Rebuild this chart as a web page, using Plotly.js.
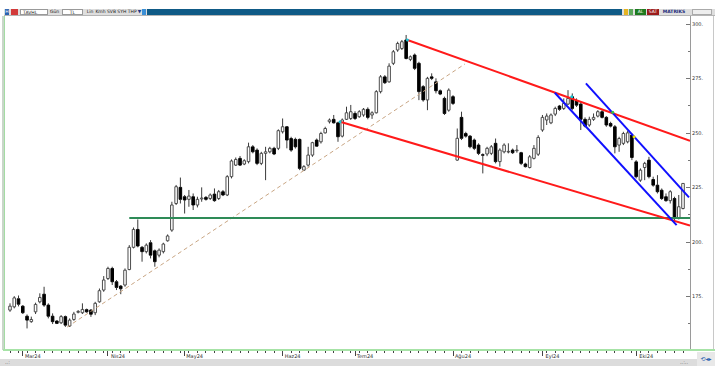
<!DOCTYPE html>
<html>
<head>
<meta charset="utf-8">
<script src="https://cdn.plot.ly/plotly-3.0.1.min.js"></script>
<style>
html,body{margin:0;padding:0;background:#fff;width:715px;height:366px;overflow:hidden;font-family:"DejaVu Sans","Liberation Sans",sans-serif;}
#chart{position:absolute;left:0;top:0;width:715px;height:366px;}
.ov{position:absolute;z-index:5;box-sizing:border-box;}
.tbt{position:absolute;top:9px;height:6px;font-size:4.5px;line-height:6px;color:#222;white-space:nowrap;z-index:6;text-align:center;box-sizing:border-box;overflow:hidden;}
</style>
</head>
<body>
<div id="chart"></div>
<!-- window chrome -->
<div class="ov" style="left:4px;top:9px;width:711px;height:7px;background:#dedede;border-bottom:1px solid #b5b5b5;"></div>
<div class="ov" style="left:147px;top:9px;width:475px;height:6px;background:#0f5a86;"></div>
<div class="tbt" style="left:5px;width:4px;background:#2a62b0;color:#fff;">H</div>
<div class="tbt" style="left:11px;width:7px;background:#d23a3a;"></div>
<div class="tbt" style="left:20px;width:28px;background:#fff;border:1px solid #999;text-align:left;padding-left:2px;">TAVHL</div>
<div class="tbt" style="left:49px;width:11px;">Gün</div>
<div class="tbt" style="left:62px;width:21px;background:#fff;border:1px solid #999;">TL</div>
<div class="tbt" style="left:85px;width:10px;">Lin</div>
<div class="tbt" style="left:95px;width:11px;">Kmh</div>
<div class="tbt" style="left:106px;width:11px;">SVB</div>
<div class="tbt" style="left:117px;width:20px;">SYH THP</div>
<div class="tbt" style="left:137px;width:5px;color:#1a3a8a;">▼</div>
<div class="tbt" style="left:142px;width:4px;background:#3b8fd6;"></div>
<div class="tbt" style="left:624px;width:4px;background:#e6b422;"></div>
<div class="tbt" style="left:629px;width:4px;background:#5aa85a;"></div>
<div class="tbt" style="left:635px;width:11px;background:#1f7a1f;color:#fff;">AL</div>
<div class="tbt" style="left:647px;width:12px;background:#9b1b1b;color:#fff;">SAT</div>
<div class="tbt" style="left:661px;width:26px;color:#1a2a7a;font-weight:bold;">MATRIKS</div>
<div class="tbt" style="left:692px;width:20px;background:#eeeeee;border:1px solid #aaa;"></div>
<div class="ov" style="left:2px;top:16px;width:3px;height:334px;background:#c9d6c9;border-right:1px solid #a4dca4;"></div>
<div class="ov" style="left:713px;top:16px;width:1px;height:334px;background:#c8c8c8;"></div>
<div class="ov" style="left:3px;top:349px;width:712px;height:2px;background:#a6e3a6;"></div>
<div class="ov" style="left:0px;top:359px;width:715px;height:7px;background:#dcdcdc;"></div>
<div class="ov" style="left:5px;top:359px;width:10px;height:6px;font-size:5px;line-height:6px;color:#555;">..:</div>
<div class="ov" style="left:680px;top:359px;width:12px;height:6px;font-size:5px;line-height:6px;color:#555;">..:..</div>
<div class="ov" style="left:697px;top:352px;width:18px;height:14px;background:#e8e8e8;font-size:6px;line-height:14px;color:#2a5db0;text-align:center;">⟲◂▸</div>
<script>
// ---- data ----
var open = [168.8,170.3,174.0,170.6,166.0,163.5,168.0,172.6,176.1,171.1,
166.0,163.8,163.0,165.8,161.5,164.5,167.8,167.6,169.0,168.8,
167.6,172.6,178.0,183.3,187.9,181.8,179.8,180.3,187.4,197.6,
205.8,197.6,195.6,199.7,196.0,194.0,195.6,200.6,205.5,217.7,
225.1,220.8,219.6,220.8,217.0,219.8,220.5,220.0,222.0,220.0,
223.1,221.6,230.0,235.3,238.4,235.8,236.9,243.7,242.2,236.1,
240.7,241.4,243.0,243.0,250.6,252.9,247.5,247.1,247.1,233.0,
235.3,239.9,246.8,246.0,250.1,255.2,256.3,254.7,248.6,256.3,
256.7,259.0,257.5,258.3,260.9,258.3,259.3,269.0,275.8,273.5,
282.0,288.1,288.8,292.7,283.8,285.8,282.0,271.3,265.2,275.8,
273.5,269.4,265.9,260.5,266.7,237.6,257.2,249.8,248.6,246.8,
244.5,240.1,240.4,240.7,245.3,236.9,241.4,241.3,242.2,241.9,
241.0,235.8,234.2,238.4,240.3,251.4,256.0,254.7,258.7,262.4,
261.3,263.3,266.7,264.8,263.3,256.3,253.7,256.3,257.8,259.8,
257.2,254.4,252.9,244.5,245.3,246.0,249.1,236.8,228.4,234.2,
237.6,228.7,226.1,223.8,220.8,219.0,220.0,210.8,215.4];
var high = [171.9,175.2,175.5,171.1,166.8,165.8,172.2,176.5,179.5,171.9,
167.3,164.2,166.5,166.3,165.0,168.0,168.8,171.9,169.5,169.3,
172.6,178.7,184.4,188.7,188.7,182.6,180.3,187.9,198.6,206.7,
210.4,198.2,199.4,200.9,196.6,197.1,199.7,203.5,218.5,226.2,
229.6,221.6,223.9,222.3,220.8,225.1,221.1,222.3,224.6,223.9,
223.9,230.7,237.9,238.8,239.5,238.0,245.6,244.5,243.0,241.4,
243.7,243.7,243.7,251.7,256.7,253.2,248.3,247.9,247.5,235.3,
243.7,246.0,247.5,250.6,252.9,256.7,258.3,255.2,256.7,262.1,
262.9,260.0,260.5,261.5,261.8,260.0,269.7,276.6,276.6,282.0,
288.1,291.9,292.7,295.0,285.6,286.5,282.7,272.0,275.8,277.4,
275.1,270.0,266.7,270.5,267.4,252.1,259.8,250.6,249.1,247.5,
245.3,240.7,243.7,244.5,247.5,243.0,245.3,245.3,242.9,244.5,
241.4,236.4,239.9,244.5,249.0,258.3,259.0,259.0,262.1,262.9,
265.9,269.7,268.2,265.9,264.4,257.2,257.5,259.0,260.5,260.9,
257.8,255.2,253.7,248.3,250.6,251.1,249.8,237.6,233.8,236.8,
239.1,230.0,230.7,224.6,222.3,223.8,220.8,221.6,227.0];
var low = [168.0,169.6,170.5,167.0,160.4,163.0,167.0,171.9,170.3,165.0,
162.4,162.4,162.4,161.1,161.1,163.9,167.3,167.0,167.6,165.7,
166.5,172.2,177.2,182.6,180.3,178.0,176.1,179.5,187.1,197.1,
197.6,191.0,194.8,192.5,188.7,193.0,194.8,200.2,204.7,217.0,
217.7,213.1,216.2,214.7,215.9,218.5,219.0,219.3,218.5,219.3,
221.1,221.1,229.2,234.9,234.9,235.3,236.1,240.7,235.3,235.3,
228.4,240.7,239.9,242.2,249.8,243.0,241.4,242.9,233.0,232.6,
234.6,239.1,243.7,245.2,249.8,254.4,254.4,246.0,248.0,256.0,
256.0,256.0,257.0,257.5,256.3,256.5,259.0,268.2,272.5,273.1,
281.2,287.3,288.1,283.8,283.0,278.9,265.1,264.4,260.5,274.3,
268.2,267.4,258.3,259.8,262.9,237.3,246.8,247.9,243.0,242.2,
239.9,231.5,239.4,239.9,236.1,234.6,240.7,240.7,240.4,241.0,
235.3,234.2,233.8,237.9,239.5,250.6,253.7,254.1,257.8,260.2,
260.6,262.9,260.5,262.0,251.4,252.6,252.9,255.6,257.2,256.7,
252.9,252.6,240.7,241.4,244.5,245.3,237.6,229.2,227.6,228.4,
229.2,225.4,222.3,219.3,218.5,217.7,209.3,210.4,215.0];
var close = [170.6,174.4,171.5,167.6,164.2,164.5,171.4,174.6,171.1,166.0,
163.5,162.7,165.8,161.9,164.2,167.0,168.2,169.1,168.0,166.9,
171.9,177.7,182.6,187.9,181.8,179.2,178.6,187.1,197.6,205.8,
198.2,195.6,198.6,194.0,191.0,196.3,199.1,202.8,217.0,225.4,
219.6,219.3,221.1,217.0,219.6,220.2,219.6,221.6,219.0,223.1,
221.6,230.0,237.2,237.9,235.3,237.3,243.7,241.4,236.1,240.7,
241.4,243.0,240.4,251.1,252.9,246.8,242.2,243.7,233.8,234.6,
239.9,245.6,244.0,249.8,252.1,256.0,254.7,248.3,256.0,259.3,
259.8,256.7,259.8,260.9,257.2,259.3,269.0,275.8,273.1,280.7,
287.3,291.1,291.9,284.2,285.0,279.7,269.0,265.2,275.1,275.1,
269.4,267.9,259.0,269.7,263.6,247.6,247.6,248.6,243.7,243.0,
240.7,239.8,243.0,243.7,236.9,242.2,244.5,241.6,241.0,242.1,
236.1,234.6,239.1,243.0,248.0,257.2,257.8,258.3,261.3,260.9,
263.6,265.9,261.3,262.8,256.3,253.2,256.3,257.2,259.8,257.2,
253.7,253.2,243.7,247.5,249.8,250.1,238.8,230.0,233.0,236.1,
230.0,226.1,223.1,220.0,219.0,223.1,210.8,216.2,226.9];

var monthTickIdx = [3, 23, 41, 64, 81, 104, 125, 147];
var monthLabels  = ['Mar24','Nis24','May24','Haz24','Tem24','Ağu24','Eyl24','Eki24'];
var priceTicks  = [175, 200, 225, 250, 275, 300];
var priceLabels = ['175.', '200.', '225.', '250.', '275.', '300.'];
var priceMinorTicks = [162.5, 187.5, 212.5, 237.5, 262.5, 287.5];

// drawn trend lines (candle index, price)
var supportX  = [28, 159.64];           var supportY  = [211, 211];
var redTopX   = [93.3, 159.64];         var redTopY   = [292.7, 246.5];
var redBotX   = [77.5, 159.64];         var redBotY   = [255.2, 207.6];
var blue1X    = [127.9, 156.5];         var blue1Y    = [268.5, 207.8];
var blue2X    = [135.2, 159.4];         var blue2Y    = [272.8, 220.5];
var dashX     = [13.4, 106.8];          var dashY     = [161.0, 281.7];
var dotX      = [77.5, 93.3, 131.9, 141.5, 146.5];
var dotY      = [255.2, 292.7, 266.7, 259.5, 248.3];
var dotC      = ['#19c6d6', '#19c6d6', '#19c6d6', '#3ac43a', '#e8e000'];

(function () {
  // ---- build candle parts from the OHLC arrays ----
  var idx = [], bodyBase = [], bodyLen = [], bodyFill = [], bodyLine = [];
  var wickX = [], wickY = [];
  for (var i = 0; i < open.length; i++) {
    var hiB = Math.max(open[i], close[i]), loB = Math.min(open[i], close[i]);
    var up = close[i] >= open[i];
    idx.push(i);
    bodyBase.push(loB);
    bodyLen.push(Math.max(hiB - loB, 0.3));
    bodyFill.push(up ? '#ffffff' : '#000000');
    bodyLine.push(up ? '#4d4d4d' : '#000000');
    if (high[i] > hiB) { wickX.push(i, i, null); wickY.push(high[i], hiB, null); }
    if (low[i] < loB)  { wickX.push(i, i, null); wickY.push(loB, low[i], null); }
  }

  var traces = [
    {type:'bar', x:idx, y:bodyLen, base:bodyBase, width:0.6,
     marker:{color:bodyFill, line:{color:bodyLine, width:1}}, hoverinfo:'skip'},
    {type:'scatter', mode:'lines', x:wickX, y:wickY, line:{color:'#3a3a3a', width:1}, connectgaps:false, hoverinfo:'skip'},
    {type:'scatter', mode:'lines', x:dashX, y:dashY, line:{color:'#c9a684', width:1, dash:'4px,3px'}, hoverinfo:'skip'},
    {type:'scatter', mode:'lines', x:supportX, y:supportY, line:{color:'#2e8b57', width:2}, hoverinfo:'skip'},
    {type:'scatter', mode:'lines', x:redTopX, y:redTopY, line:{color:'#ff1a1a', width:2}, hoverinfo:'skip'},
    {type:'scatter', mode:'lines', x:redBotX, y:redBotY, line:{color:'#ff1a1a', width:2}, hoverinfo:'skip'},
    {type:'scatter', mode:'lines', x:blue1X, y:blue1Y, line:{color:'#1010ff', width:2}, hoverinfo:'skip'},
    {type:'scatter', mode:'lines', x:blue2X, y:blue2Y, line:{color:'#1010ff', width:2}, hoverinfo:'skip'},
    {type:'scatter', mode:'markers', x:dotX, y:dotY, marker:{color:dotC, size:3}, hoverinfo:'skip'}
  ];

  var layout = {
    width:715, height:366,
    margin:{l:5, r:25, t:16, b:16},
    paper_bgcolor:'#ffffff', plot_bgcolor:'#ffffff',
    showlegend:false, barmode:'overlay',
    font:{family:'DejaVu Sans, sans-serif', size:6, color:'#333'},
    xaxis:{
      range:[-1.174, 159.64],
      showgrid:false, zeroline:false, showline:false, fixedrange:true,
      tickmode:'array', tickvals:monthTickIdx, ticktext:monthLabels,
      ticks:'outside', ticklen:5, tickwidth:1, tickcolor:'#444',
      tickfont:{size:5, color:'#333'}, ticklabelshift:10, ticklabelstandoff:-4,
      minor:{tickmode:'linear', tick0:0, dtick:2, ticks:'outside', ticklen:2, tickcolor:'#444', showgrid:false}
    },
    yaxis:{
      side:'right', range:[150.5, 303.7],
      showgrid:false, zeroline:false, showline:true, linecolor:'#9a9a9a', linewidth:1, fixedrange:true,
      tickmode:'array', tickvals:priceTicks, ticktext:priceLabels,
      ticks:'inside', ticklen:4, tickcolor:'#777',
      tickfont:{size:5, color:'#333'},
      minor:{tickmode:'array', tickvals:priceMinorTicks, ticks:'inside', ticklen:2, tickcolor:'#777', showgrid:false}
    }
  };

  Plotly.newPlot('chart', traces, layout, {staticPlot:true, displayModeBar:false});
})();
</script>
</body>
</html>
